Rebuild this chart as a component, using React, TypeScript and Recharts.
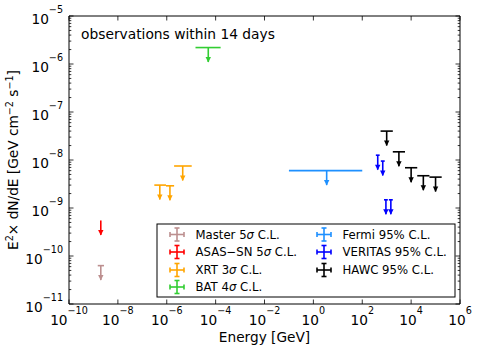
import React from "react";
import { ScatterChart, Scatter, XAxis, YAxis, ErrorBar } from "recharts";

const FONT = "'DejaVu Sans', sans-serif";

// energies in GeV, upper limits in GeV cm^-2 s^-1
const masterE = [2.0e-9];
const masterLo = [1.5e-9];
const masterHi = [2.7e-9];
const masterUL = [6.3e-11];

const asassnE = [2.0e-9];
const asassnLo = [2.0e-9];
const asassnHi = [2.0e-9];
const asassnUL = [5.5e-10];

const xrtE = [5.2e-7, 1.35e-6, 4.5e-6];
const xrtLo = [3.1e-7, 9.3e-7, 2.0e-6];
const xrtHi = [9.3e-7, 2.0e-6, 1.05e-5];
const xrtUL = [3.0e-9, 2.9e-9, 7.5e-9];

const batE = [5.0e-5];
const batLo = [1.5e-5];
const batHi = [1.6e-4];
const batUL = [2.2e-6];

const fermiE = [3.5];
const fermiLo = [0.1];
const fermiHi = [100];
const fermiUL = [6.0e-9];

const veritasE = [430, 690, 930, 1480];
const veritasLo = [360, 575, 775, 1230];
const veritasHi = [515, 830, 1115, 1780];
const veritasUL = [1.26e-8, 9.5e-9, 1.48e-9, 1.48e-9];

const hawcE = [1.0e3, 3.16e3, 1.0e4, 3.16e4, 1.0e5];
const hawcLo = [562, 1780, 5620, 17800, 56200];
const hawcHi = [1780, 5620, 17800, 56200, 178000];
const hawcUL = [4.0e-8, 1.48e-8, 6.9e-9, 4.7e-9, 4.4e-9];

const xTicks = [1e-10, 1e-8, 1e-6, 1e-4, 1e-2, 1, 1e2, 1e4, 1e6];
const yMajor = [1e-11, 1e-10, 1e-9, 1e-8, 1e-7, 1e-6, 1e-5];
const yTicks: number[] = [];
yMajor.forEach((m, i) => {
  yTicks.push(m);
  if (i < yMajor.length - 1) for (let k = 2; k < 10; k++) yTicks.push(m * k);
});

const series = [
  { name: "Master", level: "5", sigma: true, color: "#bc8f8f", e: masterE, lo: masterLo, hi: masterHi, ul: masterUL },
  { name: "ASAS\u2212SN", level: "5", sigma: true, color: "#ff0000", e: asassnE, lo: asassnLo, hi: asassnHi, ul: asassnUL },
  { name: "XRT", level: "3", sigma: true, color: "#ffa500", e: xrtE, lo: xrtLo, hi: xrtHi, ul: xrtUL },
  { name: "BAT", level: "4", sigma: true, color: "#32cd32", e: batE, lo: batLo, hi: batHi, ul: batUL },
  { name: "Fermi", level: "95%", sigma: false, color: "#1e90ff", e: fermiE, lo: fermiLo, hi: fermiHi, ul: fermiUL },
  { name: "VERITAS", level: "95%", sigma: false, color: "#0000ff", e: veritasE, lo: veritasLo, hi: veritasHi, ul: veritasUL },
  { name: "HAWC", level: "95%", sigma: false, color: "#000000", e: hawcE, lo: hawcLo, hi: hawcHi, ul: hawcUL },
];

const expText = (v: number) => {
  const n = Math.round(Math.log10(v));
  return n < 0 ? "\u2212" + Math.abs(n) : String(n);
};

function XTick(props: any) {
  const { x, y, payload, top } = props;
  if (top) {
    return <line x1={x} y1={y} x2={x} y2={y + 4.5} stroke="#000" strokeWidth={0.8} />;
  }
  return (
    <g>
      <line x1={x} y1={y} x2={x} y2={y - 4.5} stroke="#000" strokeWidth={0.8} />
      <text x={x} y={y + 21} textAnchor="middle" fontFamily={FONT} fontSize={13.7} fill="#000">
        10<tspan dy={-11} fontSize={9.6}>{expText(payload.value)}</tspan>
      </text>
    </g>
  );
}

function YTick(props: any) {
  const { x, y, payload, right } = props;
  const lg = Math.log10(payload.value);
  const major = Math.abs(lg - Math.round(lg)) < 1e-6;
  const len = major ? 4.5 : 2.3;
  const dir = right ? -1 : 1;
  return (
    <g>
      <line x1={x} y1={y} x2={x + dir * len} y2={y} stroke="#000" strokeWidth={0.8} />
      {!right && major && (
        <text x={x - 6} y={y + 7.5} textAnchor="end" fontFamily={FONT} fontSize={13.7} fill="#000">
          10<tspan dy={-11} fontSize={9.6}>{expText(payload.value)}</tspan>
        </text>
      )}
    </g>
  );
}

const Nothing = () => <g />;

const arrowHead = (color: string) => (p: any) => (
  <path d={`M${p.cx - 2.7},${p.cy - 5} L${p.cx + 2.7},${p.cy - 5} L${p.cx},${p.cy + 0.5} Z`} fill={color} />
);

function LegendMark({ cx, cy, color }: { cx: number; cy: number; color: string }) {
  return (
    <g stroke={color} strokeWidth={1.6} fill="none">
      <line x1={cx - 7} y1={cy} x2={cx + 7} y2={cy} />
      <line x1={cx} y1={cy - 6.5} x2={cx} y2={cy + 6.5} />
      <line x1={cx - 7} y1={cy - 2.5} x2={cx - 7} y2={cy + 2.5} />
      <line x1={cx + 7} y1={cy - 2.5} x2={cx + 7} y2={cy + 2.5} />
      <line x1={cx - 2.5} y1={cy - 6.5} x2={cx + 2.5} y2={cy - 6.5} />
      <line x1={cx - 2.5} y1={cy + 6.5} x2={cx + 2.5} y2={cy + 6.5} />
    </g>
  );
}

const axisCommon = {
  type: "number" as const,
  scale: "log" as const,
  allowDataOverflow: true,
  interval: 0 as const,
  tickSize: 0,
  tickMargin: 0,
  tickLine: false,
  axisLine: { stroke: "#000", strokeWidth: 1 },
};

export default function App() {
  const rows = [10.5, 28, 46, 63];
  return (
    <div style={{ position: "absolute", left: 0, top: 0, width: 480, height: 352, background: "#fff" }}>
      <ScatterChart width={480} height={352} margin={{ top: 15, right: 19, bottom: 47, left: 68 }}>
        <XAxis {...axisCommon} xAxisId="b" dataKey="x" domain={[1e-10, 1e6]} ticks={xTicks} height={1} tick={<XTick />} />
        <XAxis
          {...axisCommon}
          xAxisId="t"
          orientation="top"
          dataKey="x"
          domain={[1e-10, 1e6]}
          ticks={xTicks}
          height={1}
          tick={<XTick top />}
        />
        <YAxis {...axisCommon} yAxisId="l" dataKey="y" domain={[1e-11, 1e-5]} ticks={yTicks} width={1} tick={<YTick />} />
        <YAxis
          {...axisCommon}
          yAxisId="r"
          orientation="right"
          dataKey="y"
          domain={[1e-11, 1e-5]}
          ticks={yTicks}
          width={1}
          tick={<YTick right />}
        />
        {series.map((s) => {
          const tops = s.e.map((e, i) => ({
            x: e,
            y: s.ul[i],
            xe: [e - s.lo[i], s.hi[i] - e],
            ye: [s.ul[i] / 2, 0],
          }));
          return (
            <Scatter
              key={s.name + "-ul"}
              xAxisId="b"
              yAxisId="l"
              data={tops}
              shape={<Nothing />}
              isAnimationActive={false}
            >
              <ErrorBar dataKey="xe" direction="x" width={0} stroke={s.color} strokeWidth={1.6} />
              <ErrorBar dataKey="ye" direction="y" width={0} stroke={s.color} strokeWidth={1.6} />
            </Scatter>
          );
        })}
        {series.map((s) => (
          <Scatter
            key={s.name + "-arrow"}
            xAxisId="b"
            yAxisId="l"
            data={s.e.map((e, i) => ({ x: e, y: s.ul[i] / 2 }))}
            shape={arrowHead(s.color)}
            isAnimationActive={false}
          />
        ))}
      </ScatterChart>
      <svg
        width={480}
        height={352}
        style={{ position: "absolute", left: 0, top: 0, pointerEvents: "none" }}
        fontFamily={FONT}
      >
        <text x={81} y={39} fontSize={13.8} fill="#000">
          observations within 14 days
        </text>
        <text x={264.5} y={342} fontSize={13.7} textAnchor="middle" fill="#000">
          Energy [GeV]
        </text>
        <text transform="translate(18,160) rotate(-90)" textAnchor="middle" fontSize={13.7} fill="#000">
          E<tspan dy={-5} fontSize={9.6}>2</tspan>
          <tspan dy={5}>{"\u00d7 dN/dE [GeV cm"}</tspan>
          <tspan dy={-5} fontSize={9.6}>{"\u22122"}</tspan>
          <tspan dy={5}>{" s"}</tspan>
          <tspan dy={-5} fontSize={9.6}>{"\u22121"}</tspan>
          <tspan dy={5}>]</tspan>
        </text>
        <g transform="translate(157,224)">
          <rect x={0} y={0} width={298} height={73} fill="#fff" stroke="#000" strokeWidth={1} />
          {series.map((s, i) => {
            const col = i < 4 ? 0 : 1;
            const row = i < 4 ? i : i - 4;
            const cx = col === 0 ? 20 : 167;
            const cy = rows[row];
            return (
              <g key={s.name}>
                <LegendMark cx={cx} cy={cy} color={s.color} />
                <text x={cx + 18.5} y={cy + 4.2} fontSize={11.7} fill="#000">
                  {s.name} {s.level}
                  {s.sigma && <tspan fontStyle="italic">{"\u03c3"}</tspan>} C.L.
                </text>
              </g>
            );
          })}
        </g>
      </svg>
    </div>
  );
}
